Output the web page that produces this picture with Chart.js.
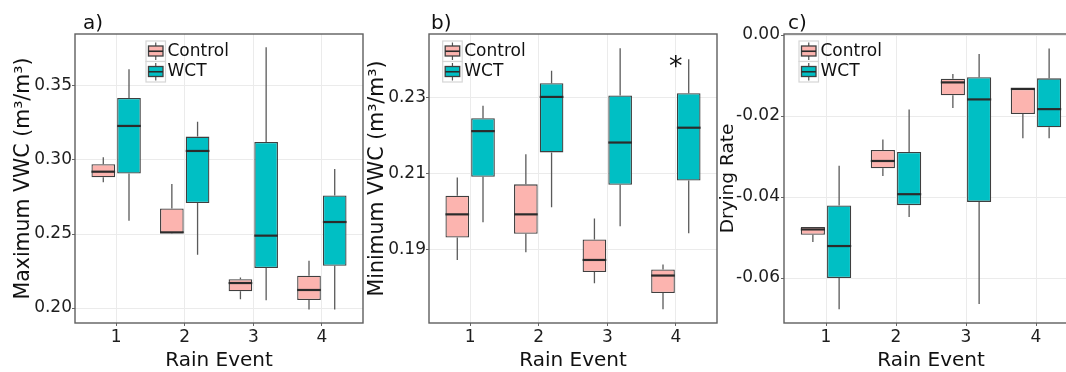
<!DOCTYPE html>
<html><head><meta charset="utf-8">
<script src="https://cdn.jsdelivr.net/npm/chart.js@4.4.1/dist/chart.umd.min.js"></script>
<style>
html,body{margin:0;padding:0;background:#fff;}
body{width:1066px;height:372px;overflow:hidden;position:relative;}
canvas{position:absolute;top:0;}
</style></head>
<body>
<canvas id="pa" width="365" height="372" style="left:0px"></canvas>
<canvas id="pb" width="353" height="372" style="left:365px"></canvas>
<canvas id="pc" width="360" height="372" style="left:718px"></canvas>
<script>
// ---------- data ----------
const events = [1, 2, 3, 4];
const eventLabels = ['1', '2', '3', '4'];
const seriesNames = ['Control', 'WCT'];
// five-number summaries per rain event: [min, q1, median, q3, max]
const maxVwcControl = [[0.2849,0.2883,0.2921,0.2971,0.3018],[0.2505,0.2507,0.2511,0.2673,0.2838],[0.2059,0.2113,0.2169,0.2194,0.2207],[0.1991,0.2054,0.2122,0.2218,0.2320]];
const maxVwcWCT     = [[0.2590,0.2908,0.3230,0.3419,0.3613],[0.2360,0.2709,0.3061,0.3158,0.3259],[0.2052,0.2270,0.2489,0.3122,0.3761],[0.1991,0.2286,0.2581,0.2761,0.2939]];
const minVwcControl = [[0.1872,0.1931,0.1992,0.2041,0.2089],[0.1892,0.1941,0.1992,0.2071,0.2150],[0.1811,0.1840,0.1872,0.1926,0.1981],[0.1742,0.1785,0.1831,0.1847,0.1860]];
const minVwcWCT     = [[0.1971,0.2091,0.2211,0.2245,0.2278],[0.2011,0.2155,0.2301,0.2337,0.2370],[0.1961,0.2070,0.2181,0.2305,0.2429],[0.1942,0.2081,0.2220,0.2311,0.2400]];
const dryControl    = [[-0.0511,-0.0493,-0.0480,-0.0474,-0.0474],[-0.0348,-0.0329,-0.0311,-0.0284,-0.0258],[-0.0180,-0.0149,-0.0117,-0.0108,-0.0096],[-0.0255,-0.0195,-0.0133,-0.0133,-0.0133]];
const dryWCT        = [[-0.0677,-0.0600,-0.0521,-0.0421,-0.0323],[-0.0449,-0.0420,-0.0393,-0.0289,-0.0184],[-0.0664,-0.0412,-0.0159,-0.0104,-0.0047],[-0.0255,-0.0228,-0.0183,-0.0107,-0.0033]];
const maxVwcTicks = [0.20, 0.25, 0.30, 0.35];
const minVwcTicks = [0.19, 0.21, 0.23];
const dryTicks    = [-0.06, -0.04, -0.02, 0.00];
const minVwcSignif = [{event: 4, value: 0.2392, text: '*'}];

// ---------- style ----------
const FONT = "'DejaVu Sans', Verdana, sans-serif";
const CTRL_FILL = '#FCB4AF';
const WCT_FILL = '#00BFC4';
const EDGE = '#3f3f3f';

const boxPlugin = {
  id: 'boxplot',
  beforeDatasetsDraw(chart) {
    const ctx = chart.ctx, y = chart.scales.y;
    ctx.save();
    ctx.strokeStyle = '#5a5a5a'; ctx.lineWidth = 1.3;
    chart.data.datasets.forEach((ds, di) => {
      chart.getDatasetMeta(di).data.forEach((bar, i) => {
        const s = ds.stats[i];
        const x = bar.x;
        ctx.beginPath();
        ctx.moveTo(x, y.getPixelForValue(s[3])); ctx.lineTo(x, y.getPixelForValue(s[4]));
        ctx.moveTo(x, y.getPixelForValue(s[1])); ctx.lineTo(x, y.getPixelForValue(s[0]));
        ctx.stroke();
      });
    });
    ctx.restore();
  },
  afterDatasetsDraw(chart) {
    const ctx = chart.ctx, y = chart.scales.y;
    ctx.save();
    ctx.strokeStyle = '#2b2b2b'; ctx.lineWidth = 2.2;
    chart.data.datasets.forEach((ds, di) => {
      chart.getDatasetMeta(di).data.forEach((bar, i) => {
        const s = ds.stats[i];
        const py = y.getPixelForValue(s[2]);
        ctx.beginPath();
        ctx.moveTo(bar.x - bar.width / 2, py); ctx.lineTo(bar.x + bar.width / 2, py);
        ctx.stroke();
      });
    });
    ctx.restore();
  },
  afterDraw(chart) {
    const ctx = chart.ctx, ca = chart.chartArea, o = chart.options.plugins.boxplot;
    ctx.save();
    // panel border
    ctx.strokeStyle = '#5f5f5f'; ctx.lineWidth = 1.4;
    ctx.strokeRect(ca.left, ca.top, ca.right - ca.left, ca.bottom - ca.top);
    // significance marks
    (o.marks || []).forEach(m => {
      ctx.fillStyle = '#111'; ctx.font = '27px ' + FONT;
      ctx.textAlign = 'center'; ctx.textBaseline = 'middle';
      ctx.fillText(m.text, chart.scales.x.getPixelForValue(m.event), chart.scales.y.getPixelForValue(m.value) + 6);
    });
    // legend
    const kx = ca.left + o.legendDx, ky = ca.top + 7, kw = 19.5, kh = 20.5;
    chart.data.datasets.forEach((ds, i) => {
      const y0 = ky + i * kh;
      ctx.fillStyle = '#fff';
      ctx.fillRect(kx, y0, kw, kh);
      ctx.strokeStyle = '#d6d6d6'; ctx.lineWidth = 1.2;
      ctx.strokeRect(kx, y0, kw, kh);
      ctx.strokeStyle = '#555'; ctx.lineWidth = 1.2;
      ctx.beginPath(); ctx.moveTo(kx + kw / 2, y0 + 1.5); ctx.lineTo(kx + kw / 2, y0 + kh - 1.5); ctx.stroke();
      ctx.fillStyle = ds.backgroundColor;
      ctx.fillRect(kx + 2.5, y0 + 5, kw - 5, kh - 10.5);
      ctx.strokeStyle = EDGE; ctx.lineWidth = 1.3;
      ctx.strokeRect(kx + 2.5, y0 + 5, kw - 5, kh - 10.5);
      ctx.strokeStyle = '#2b2b2b'; ctx.lineWidth = 1.6;
      ctx.beginPath(); ctx.moveTo(kx + 2.5, y0 + kh / 2); ctx.lineTo(kx + kw - 2.5, y0 + kh / 2); ctx.stroke();
      ctx.fillStyle = '#111'; ctx.font = '17px ' + FONT;
      ctx.textAlign = 'left'; ctx.textBaseline = 'middle';
      ctx.fillText(ds.label, kx + kw + 2, y0 + kh / 2);
    });
    // panel tag
    ctx.fillStyle = '#111'; ctx.font = '20px ' + FONT;
    ctx.textAlign = 'left'; ctx.textBaseline = 'alphabetic';
    ctx.fillText(o.tag, ca.left + o.tagDx, 28.5);
    ctx.restore();
  }
};

function boxData(stats) {
  return stats.map((s, i) => ({x: events[i], y: [s[1], s[3]]}));
}

function makePanel(id, p) {
  return new Chart(document.getElementById(id), {
    type: 'bar',
    data: {
      datasets: [
        {label: seriesNames[0], data: boxData(p.ctrl), stats: p.ctrl, backgroundColor: CTRL_FILL,
         borderColor: EDGE, borderWidth: 1.3, borderSkipped: false, categoryPercentage: 0.75, barPercentage: 0.92},
        {label: seriesNames[1], data: boxData(p.wct), stats: p.wct, backgroundColor: WCT_FILL,
         borderColor: EDGE, borderWidth: 1.3, borderSkipped: false, categoryPercentage: 0.75, barPercentage: 0.92}
      ]
    },
    options: {
      responsive: false, animation: false, devicePixelRatio: 1,
      layout: {padding: {left: 0, right: p.padRight, top: 34, bottom: 0}},
      plugins: {
        legend: {display: false}, tooltip: {enabled: false},
        boxplot: {legendDx: p.legendDx, tag: p.tag, tagDx: p.tagDx, marks: p.marks}
      },
      scales: {
        x: {
          type: 'linear', min: 0.4, max: 4.6, offset: false,
          afterBuildTicks: s => { s.ticks = events.map(v => ({value: v})); },
          afterFit: s => { s.height = 49; },
          ticks: {autoSkip: false, maxRotation: 0, padding: 1.5, color: '#1e1e1e',
                  font: {family: FONT, size: 17},
                  callback: v => eventLabels[events.indexOf(v)]},
          grid: {offset: false, color: '#ebebeb', lineWidth: 1, tickLength: 3, tickColor: '#666', drawTicks: true},
          border: {display: false},
          title: {display: true, text: 'Rain Event', color: '#111',
                  font: {family: FONT, size: 20, lineHeight: 1}, padding: {top: 0, bottom: 1}}
        },
        y: {
          min: p.yMin, max: p.yMax,
          afterBuildTicks: s => { s.ticks = p.yTicks.map(v => ({value: v})); },
          afterFit: s => { s.width = p.yWidth; },
          ticks: {autoSkip: false, padding: p.tickPad, color: '#1e1e1e',
                  font: {family: FONT, size: 17},
                  callback: v => v.toFixed(2)},
          grid: {color: '#ebebeb', lineWidth: 1, tickLength: 3, tickColor: '#666', drawTicks: true},
          border: {display: false},
          title: {display: true, text: p.yTitle, color: '#111',
                  font: {family: FONT, size: p.titleSize, lineHeight: 1}, padding: {top: p.titlePad, bottom: 0}}
        }
      }
    },
    plugins: [boxPlugin]
  });
}

makePanel('pa', {ctrl: maxVwcControl, wct: maxVwcWCT, yMin: 0.1899, yMax: 0.3851, yTicks: maxVwcTicks,
  yTitle: 'Maximum VWC (m³/m³)', titleSize: 20.5, yWidth: 75, padRight: 2, titlePad: 13.5, tickPad: 0,
  legendDx: 71, tag: 'a)', tagDx: 8, marks: []});
makePanel('pb', {ctrl: minVwcControl, wct: minVwcWCT, yMin: 0.17061, yMax: 0.24666, yTicks: minVwcTicks,
  yTitle: 'Minimum VWC (m³/m³)', titleSize: 20.5, yWidth: 64, padRight: 1, titlePad: 2.5, tickPad: 0,
  legendDx: 13.7, tag: 'b)', tagDx: 2, marks: minVwcSignif});
makePanel('pc', {ctrl: dryControl, wct: dryWCT, yMin: -0.0711, yMax: 0.00025, yTicks: dryTicks,
  yTitle: 'Drying Rate', titleSize: 18.5, yWidth: 66, padRight: 0, titlePad: 1, tickPad: 1,
  legendDx: 15, tag: 'c)', tagDx: 4, marks: []});
</script>
</body></html>
